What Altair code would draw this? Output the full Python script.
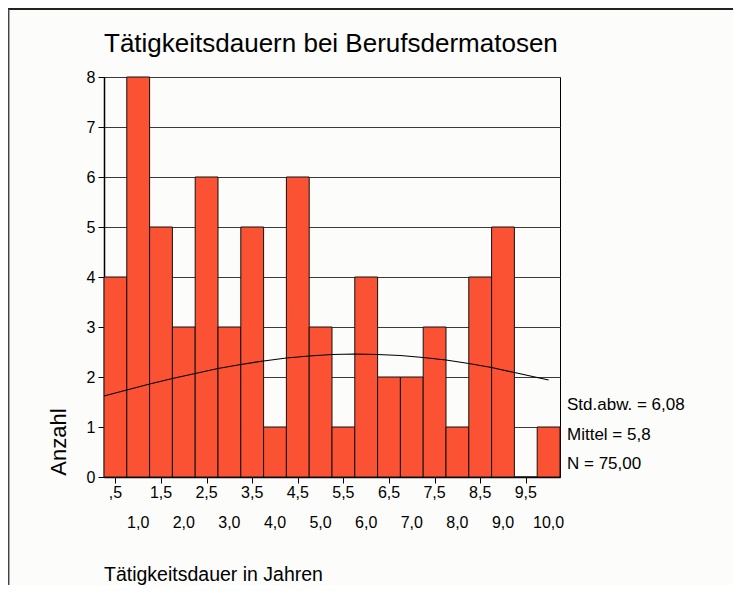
import altair as alt
import pandas as pd

# ---- data ----
bin_centers = [0.5, 1.0, 1.5, 2.0, 2.5, 3.0, 3.5, 4.0, 4.5, 5.0,
               5.5, 6.0, 6.5, 7.0, 7.5, 8.0, 8.5, 9.0, 9.5, 10.0]
counts = [4, 8, 5, 3, 6, 3, 5, 1, 6, 3, 1, 4, 2, 2, 3, 1, 4, 5, 0, 1]
tick_labels = [",5", "1,0", "1,5", "2,0", "2,5", "3,0", "3,5", "4,0", "4,5", "5,0",
               "5,5", "6,0", "6,5", "7,0", "7,5", "8,0", "8,5", "9,0", "9,5", "10,0"]
curve_x = [0.25, 0.75, 1.25, 1.75, 2.25, 2.75, 3.25, 3.75, 4.25, 4.75, 5.25,
           5.75, 6.25, 6.75, 7.25, 7.75, 8.25, 8.75, 9.25, 9.75, 10.0]
curve_y = [1.62, 1.74, 1.86, 1.97, 2.07, 2.17, 2.25, 2.32, 2.38, 2.42, 2.45,
           2.46, 2.45, 2.43, 2.39, 2.34, 2.27, 2.19, 2.09, 1.99, 1.94]
y_ticks = [0, 1, 2, 3, 4, 5, 6, 7, 8]
stats_lines = ["Std.abw. = 6,08", "Mittel = 5,8", "N = 75,00"]
title_text = "Tätigkeitsdauern bei Berufsdermatosen"
x_title = "Tätigkeitsdauer in Jahren"
y_title = "Anzahl"

FONT = "Liberation Sans"
BAR = "#FB5234"
BG = "#fcfcfa"
W, H = 456, 400

bars_df = pd.DataFrame({"center": bin_centers, "count": counts})
ticks_df = pd.DataFrame({"center": bin_centers, "label": tick_labels,
                         "row": [i % 2 for i in range(len(bin_centers))]})
curve_df = pd.DataFrame({"x": curve_x, "y": curve_y})
one = pd.DataFrame({"k": [0]})

xscale = alt.Scale(domain=[0.25, 10.25], nice=False, zero=False)
yscale = alt.Scale(domain=[0, 8], nice=False)

bars = alt.Chart(bars_df).transform_calculate(
    x0="datum.center - 0.25", x1="datum.center + 0.25", base="0"
).mark_bar(color=BAR, stroke="#111111", strokeWidth=1).encode(
    x=alt.X("x0:Q", scale=xscale,
            axis=alt.Axis(values=bin_centers, labels=False, ticks=True, tickSize=6,
                          tickColor="black", domainColor="black", domainWidth=1.5,
                          grid=False, title=None)),
    x2="x1:Q",
    y=alt.Y("count:Q", scale=yscale,
            axis=alt.Axis(values=y_ticks, grid=True, gridColor="#3a3a3a", gridWidth=1,
                          tickSize=6, tickColor="black", domainColor="black",
                          domainWidth=1.5, labelFontSize=16, labelFont=FONT,
                          labelColor="black", labelPadding=3, title=None)),
    y2="base:Q",
)

curve = alt.Chart(curve_df).mark_line(color="black", strokeWidth=1.2).encode(
    x=alt.X("x:Q", scale=xscale), y=alt.Y("y:Q", scale=yscale)
)

row1 = alt.Chart(ticks_df).transform_filter("datum.row == 0").mark_text(
    font=FONT, fontSize=16, baseline="middle", align="center", color="black"
).encode(x=alt.X("center:Q", scale=xscale), y=alt.value(416), text="label:N")
row2 = alt.Chart(ticks_df).transform_filter("datum.row == 1").mark_text(
    font=FONT, fontSize=16, baseline="middle", align="center", color="black"
).encode(x=alt.X("center:Q", scale=xscale), y=alt.value(446), text="label:N")

title = alt.Chart(one).mark_text(
    font=FONT, fontSize=26, align="left", baseline="alphabetic", color="black"
).encode(x=alt.value(0), y=alt.value(-25), text=alt.value(title_text))

xt = alt.Chart(one).mark_text(
    font=FONT, fontSize=19.5, align="left", baseline="middle", color="black"
).encode(x=alt.value(0), y=alt.value(498), text=alt.value(x_title))

yt = alt.Chart(one).mark_text(
    font=FONT, fontSize=22, align="center", baseline="alphabetic", angle=270, color="black"
).encode(x=alt.value(-38), y=alt.value(365), text=alt.value(y_title))

stats = alt.Chart(one).mark_text(
    font=FONT, fontSize=17, align="left", baseline="middle", color="black",
    lineHeight=29.5
).encode(x=alt.value(463), y=alt.value(328), text=alt.value(stats_lines))

# outer frame of the figure: top and left edges, kept inside the canvas
frame_top = alt.Chart(one).mark_rule(color="#222222", strokeWidth=2).encode(
    x=alt.value(-96), x2=alt.value(629), y=alt.value(-68)
)
frame_left = alt.Chart(one).mark_rule(color="#444444", strokeWidth=1.5).encode(
    x=alt.value(-95.3), y=alt.value(-68), y2=alt.value(508)
)

chart = alt.layer(
    bars, curve, row1, row2, title, xt, yt, stats, frame_top, frame_left
).properties(
    width=W, height=H, background=BG,
    padding={"left": 96, "top": 69, "right": 173, "bottom": 108},
    autosize=alt.AutoSizeParams(type="none"),
).configure_view(
    stroke="black", strokeWidth=1, fill=BG
)

chart.save("out.html", embed_options={"renderer": "svg", "actions": False})
